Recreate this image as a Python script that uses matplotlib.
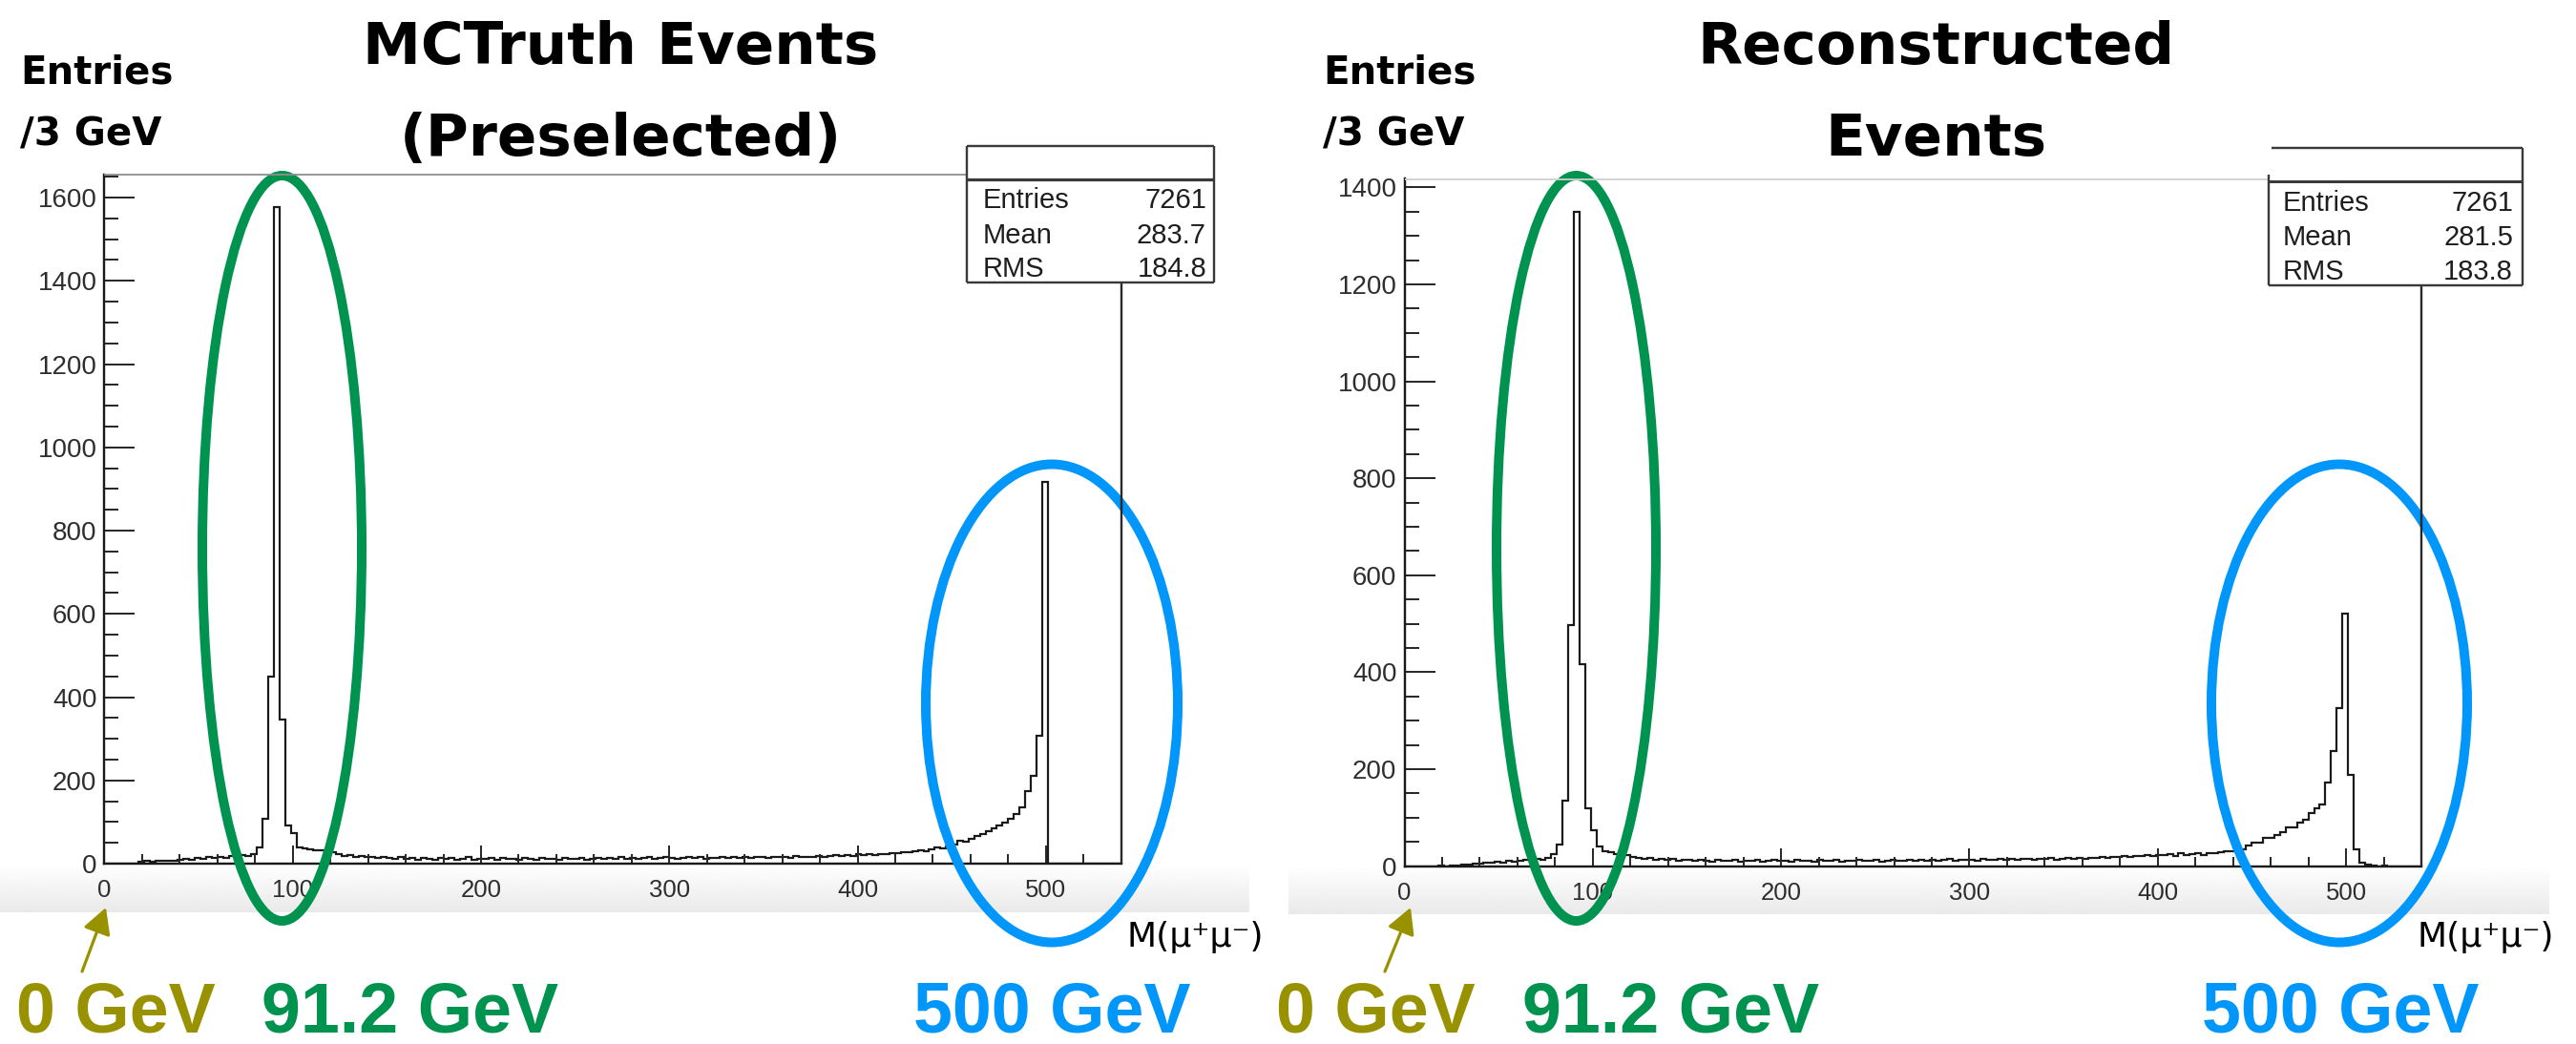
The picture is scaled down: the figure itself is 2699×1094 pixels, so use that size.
import numpy as np
import matplotlib
matplotlib.use("Agg")
import matplotlib.pyplot as plt
from matplotlib.patches import Ellipse
from matplotlib.ticker import MultipleLocator

# ---------------------------------------------------------------- data
bin_edges = np.arange(0, 541, 3)          # 180 bins of 3 GeV, 0..540 GeV

mctruth_counts = [
    0, 0, 0, 0, 0, 0, 4, 6, 5, 7,
    6, 8, 7, 9, 12, 10, 14, 11, 15, 13,
    17, 14, 19, 16, 21, 18, 24, 40, 107, 449,
    1577, 346, 91, 74, 39, 36, 34, 31, 33, 29,
    27, 22, 18, 20, 16, 19, 15, 17, 14, 16,
    13, 12, 15, 11, 14, 10, 13, 12, 9, 14,
    11, 13, 10, 12, 15, 9, 12, 11, 14, 10,
    13, 11, 12, 9, 14, 12, 10, 13, 11, 12,
    10, 14, 12, 11, 13, 9, 12, 14, 11, 13,
    12, 15, 11, 13, 12, 14, 16, 12, 13, 15,
    13, 12, 14, 16, 13, 15, 12, 14, 13, 16,
    14, 15, 13, 17, 14, 16, 15, 13, 17, 15,
    16, 14, 18, 15, 17, 16, 19, 17, 18, 20,
    18, 21, 19, 22, 20, 23, 21, 24, 22, 25,
    26, 28, 27, 30, 32, 30, 35, 38, 36, 42,
    45, 55, 52, 60, 66, 72, 78, 85, 92, 98,
    108, 120, 135, 175, 212, 308, 916, 0, 0, 0,
    0, 0, 0, 0, 0, 0, 0, 0, 0, 0,
]

reco_counts = [
    0, 0, 0, 0, 0, 0, 1, 0, 2, 1,
    3, 4, 6, 5, 8, 7, 9, 8, 11, 10,
    12, 13, 11, 15, 14, 18, 25, 45, 135, 497,
    1350, 417, 120, 75, 40, 30, 28, 25, 22, 24,
    20, 18, 16, 17, 14, 15, 13, 16, 12, 14,
    13, 11, 14, 12, 10, 13, 12, 11, 14, 10,
    12, 11, 13, 10, 12, 14, 11, 12, 10, 13,
    11, 12, 10, 13, 11, 12, 14, 10, 12, 11,
    13, 11, 12, 14, 10, 12, 13, 11, 12, 14,
    12, 13, 11, 14, 12, 13, 15, 12, 14, 13,
    14, 12, 15, 13, 14, 16, 13, 15, 14, 16,
    15, 14, 16, 15, 17, 14, 16, 18, 15, 17,
    16, 18, 17, 19, 18, 20, 19, 21, 20, 22,
    21, 23, 22, 24, 23, 25, 22, 26, 24, 25,
    26, 24, 26, 27, 28, 30, 30, 35, 35, 42,
    48, 48, 58, 58, 64, 70, 81, 81, 90, 95,
    110, 120, 127, 172, 237, 326, 520, 189, 35, 8,
    3, 2, 0, 1, 0, 0, 0, 0, 0, 0,
]

stat_names = ["Entries", "Mean", "RMS"]
mctruth_stats = ["7261", "283.7", "184.8"]
reco_stats = ["7261", "281.5", "183.8"]

titles = [["MCTruth Events", "(Preselected)"], ["Reconstructed", "Events"]]
ylabel_lines = ["Entries", "/3 GeV"]
xlabel = "M(μ⁺μ⁻)"
mass_labels = ["0 GeV", "91.2 GeV", "500 GeV"]

# ---------------------------------------------------------------- style
W, H, DPI = 2699, 1094, 100
OLIVE = "#999200"
GREEN = "#00924F"
BLUE = "#0096FA"
TICK_FONT = ["Liberation Sans", "DejaVu Sans"]
BIG_FONT = ["DejaVu Sans"]


def pt(px):
    return px * 72.0 / DPI


fig = plt.figure(figsize=(W / DPI, H / DPI), dpi=DPI)
fig.patch.set_facecolor("white")


def fig_rect(x0, y0, x1, y1):
    """pixel box (top-left origin) -> figure fraction rectangle"""
    return [x0 / W, 1 - y1 / H, (x1 - x0) / W, (y1 - y0) / H]


def shade_band(x0, x1, y0, y1):
    bax = fig.add_axes(fig_rect(x0, y0, x1, y1), zorder=0)
    grad = np.linspace(1.0, 0.915, 64)[:, None]
    bax.imshow(grad, cmap="gray", vmin=0, vmax=1, aspect="auto",
               extent=[0, 1, 0, 1], origin="upper", interpolation="bilinear")
    bax.axis("off")


def panel(box, counts):
    x0, y0, x1, y1 = box
    ax = fig.add_axes(fig_rect(x0, y0, x1, y1), zorder=1)
    ax.set_facecolor("none")
    ax.stairs(counts, bin_edges, color="#1a1a1a", lw=pt(2.2), baseline=0)
    ax.set_xlim(bin_edges[0], bin_edges[-1])
    ax.set_ylim(0, 1.05 * max(counts))
    for side in ("top", "right"):
        ax.spines[side].set_visible(False)
    for side in ("left", "bottom"):
        ax.spines[side].set_color("#1a1a1a")
        ax.spines[side].set_linewidth(pt(2.4))
    ax.xaxis.set_major_locator(MultipleLocator(100))
    ax.xaxis.set_minor_locator(MultipleLocator(20))
    ax.yaxis.set_major_locator(MultipleLocator(200))
    ax.yaxis.set_minor_locator(MultipleLocator(50))
    ax.tick_params(axis="y", which="major", direction="in", length=pt(32),
                   width=pt(2.0), color="#2a2a2a", pad=pt(8), labelsize=20,
                   labelcolor="#2e2e2e")
    ax.tick_params(axis="y", which="minor", direction="in", length=pt(15),
                   width=pt(2.0), color="#2a2a2a")
    ax.tick_params(axis="x", which="major", direction="in", length=pt(19),
                   width=pt(2.0), color="#2a2a2a", pad=pt(16), labelsize=18.5,
                   labelcolor="#2e2e2e")
    ax.tick_params(axis="x", which="minor", direction="in", length=pt(10),
                   width=pt(2.0), color="#2a2a2a")
    for lab in ax.get_xticklabels() + ax.get_yticklabels():
        lab.set_fontfamily(TICK_FONT)
    return ax


# light shading strip under each histogram
shade_band(0, 1309, 905, 956)
shade_band(1350, 2671, 907, 958)

left_box = (109.4, 182.7, 1174.7, 905.0)
right_box = (1471.5, 187.5, 2537.0, 907.7)
panel(left_box, mctruth_counts)
panel(right_box, reco_counts)

# ---------------------------------------------------------------- overlay (pixel coordinates)
ov = fig.add_axes([0, 0, 1, 1], zorder=5)
ov.set_xlim(0, W)
ov.set_ylim(H, 0)
ov.set_facecolor("none")
ov.axis("off")


def seg(xa, ya, xb, yb, color="#3a3a3a", lw=2.4):
    ov.plot([xa, xb], [ya, yb], color=color, lw=pt(lw), solid_capstyle="butt")


# frame remainder: top line up to the stats box, right edge below it
seg(left_box[0], left_box[1], 1013, left_box[1], color="#8f8f8f", lw=1.8)
seg(left_box[2], 296, left_box[2], left_box[3], color="#2a2a2a", lw=2.4)
seg(right_box[0], right_box[1], 2377, right_box[1], color="#d0d0d0", lw=1.8)
seg(right_box[2], 299, right_box[2], right_box[3], color="#2a2a2a", lw=2.4)

# statistics boxes
bx0, by0, bx1, by1, bsep = 1013, 153, 1272, 296, 188
seg(bx0, by0, bx1, by0)
seg(bx0, by0, bx0, by1)
seg(bx1, by0, bx1, by1)
seg(bx0, by1, bx1, by1)
seg(bx0, bsep, bx1, bsep, lw=3.2)

rx0, ry0, rx1, ry1, rsep = 2377, 155, 2643, 299, 190
seg(2380, ry0, rx1, ry0)
seg(rx1, ry0, rx1, ry1)
seg(rx0, 183, rx0, ry1)
seg(rx0, ry1, rx1, ry1)
seg(rx0, rsep, rx1, rsep, lw=3.0)


def stats_text(xl, xr, baselines, values):
    for name, val, yb in zip(stat_names, values, baselines):
        ov.text(xl, yb, name, ha="left", va="baseline", fontsize=21,
                family=TICK_FONT, color="#1e1e1e")
        ov.text(xr, yb, val, ha="right", va="baseline", fontsize=21,
                family=TICK_FONT, color="#1e1e1e")


stats_text(1030, 1264, [218, 255, 290], mctruth_stats)
stats_text(2392, 2633, [221, 257, 293], reco_stats)

# titles
for cx, lines in zip([650, 2028], titles):
    ov.text(cx, 67, lines[0], ha="center", va="baseline", fontsize=44,
            family=BIG_FONT, weight="bold", color="black")
    ov.text(cx, 163, lines[1], ha="center", va="baseline", fontsize=44,
            family=BIG_FONT, weight="bold", color="black")

# y-axis unit labels
for xl in (21, 1386):
    ov.text(xl, 88, ylabel_lines[0], ha="left", va="baseline", fontsize=29,
            family=BIG_FONT, weight="bold", color="black")
    ov.text(xl, 152, ylabel_lines[1], ha="left", va="baseline", fontsize=29,
            family=BIG_FONT, weight="bold", color="black")

# x-axis label
for xl in (1180, 2532):
    ov.text(xl, 992, xlabel, ha="left", va="baseline", fontsize=26,
            family=BIG_FONT, color="black")

# peak highlights
ellipse_specs = [
    ((295.5, 574.5), 167, 781, GREEN),
    ((1651.5, 574.5), 167, 781, GREEN),
    ((1102, 737), 264, 501, BLUE),
    ((2451, 737), 268, 501, BLUE),
]
for c, w, h, col in ellipse_specs:
    ov.add_patch(Ellipse(c, w, h, fill=False, edgecolor=col, lw=pt(10)))

# arrows pointing to the origin of each mass axis
for tail, tip in [((86, 1018), (111, 951)), ((1451, 1018), (1478, 951))]:
    ov.annotate("", xy=tip, xytext=tail,
                arrowprops=dict(arrowstyle="-|>,head_length=0.55,head_width=0.3",
                                color=OLIVE, lw=pt(3.2), mutation_scale=30,
                                shrinkA=0, shrinkB=0))

# mass labels under the axes
label_colors = [OLIVE, GREEN, BLUE]
for xs in ([17, 274, 957], [1337, 1595, 2307]):
    for x, txt, col in zip(xs, mass_labels, label_colors):
        ov.text(x, 1082, txt, ha="left", va="baseline", fontsize=53,
                family=TICK_FONT, weight="bold", color=col)

fig.savefig("out.png", dpi=DPI, facecolor="white")
